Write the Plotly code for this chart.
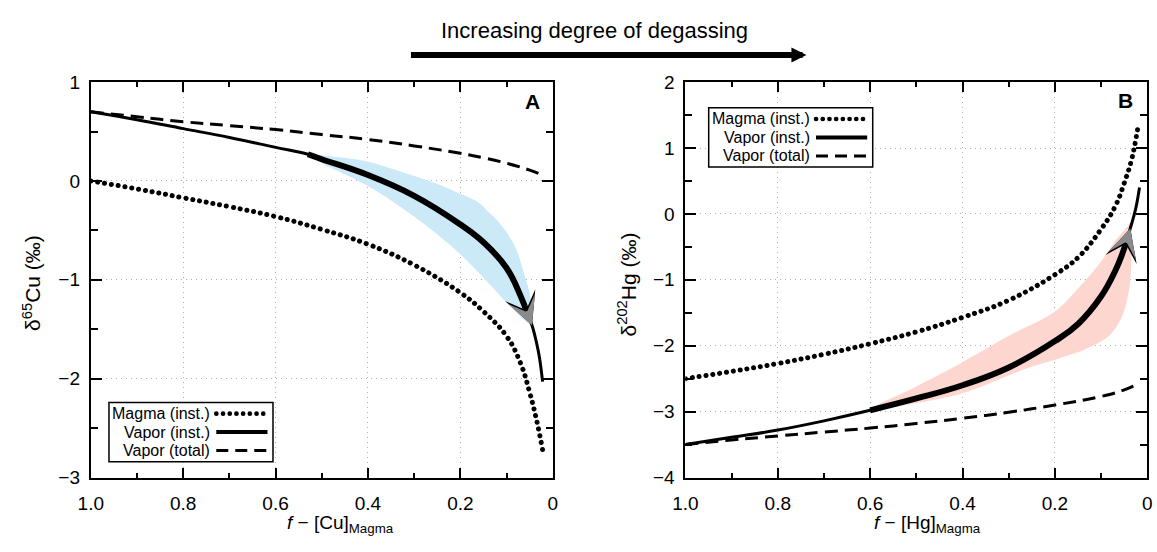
import numpy as np
import plotly.graph_objects as go

# ---------------- Panel A: Cu ----------------
f_cu_magma = [1.0, 0.9, 0.8, 0.7, 0.6, 0.5, 0.4, 0.3, 0.2, 0.15, 0.1, 0.07, 0.05, 0.035, 0.022]
cu_magma = [0.00, -0.08, -0.17, -0.26, -0.36, -0.49, -0.64, -0.85, -1.13, -1.32, -1.57, -1.84, -2.14, -2.42, -2.72]

f_cu_vapor = [1.0, 0.9, 0.8, 0.7, 0.6, 0.53, 0.5, 0.4, 0.3, 0.2, 0.15, 0.1, 0.07, 0.055, 0.045, 0.035, 0.029, 0.022]
cu_vapor = [0.70, 0.62, 0.53, 0.44, 0.34, 0.27, 0.22, 0.06, -0.15, -0.44, -0.62, -0.88, -1.16, -1.34, -1.46, -1.64, -1.78, -2.03]

f_cu_total = [1.0, 0.9, 0.8, 0.7, 0.6, 0.5, 0.4, 0.3, 0.2, 0.15, 0.1, 0.05, 0.022]
cu_total = [0.70, 0.65, 0.60, 0.56, 0.52, 0.47, 0.42, 0.355, 0.28, 0.235, 0.18, 0.11, 0.06]

# observed range envelope (upper edge, then lower edge back to start)
f_cu_band_hi = [0.53, 0.5, 0.4, 0.3, 0.25, 0.2, 0.16, 0.14, 0.12, 0.1, 0.08, 0.06, 0.048, 0.046]
cu_band_hi = [0.27, 0.26, 0.195, 0.05, -0.03, -0.13, -0.22, -0.31, -0.40, -0.52, -0.68, -0.97, -1.18, -1.46]
f_cu_band_lo = [0.061, 0.1, 0.15, 0.2, 0.3, 0.4, 0.5, 0.53]
cu_band_lo = [-1.41, -1.23, -0.98, -0.74, -0.36, -0.05, 0.18, 0.27]

cu_highlight = (0.055, 0.53)     # f-range of the emphasised vapour path
cu_arrow = (0.055, 0.045)        # tail f, tip f on the vapour curve

# ---------------- Panel B: Hg ----------------
f_hg_magma = [1.0, 0.9, 0.8, 0.7, 0.6, 0.5, 0.4, 0.3, 0.2, 0.15, 0.1, 0.07, 0.05, 0.035, 0.028, 0.02]
hg_magma = [-2.50, -2.39, -2.27, -2.13, -1.97, -1.79, -1.57, -1.31, -0.92, -0.66, -0.23, 0.11, 0.47, 0.80, 1.02, 1.33]

f_hg_vapor = [1.0, 0.9, 0.8, 0.7, 0.6, 0.5, 0.4, 0.3, 0.2, 0.15, 0.1, 0.07, 0.055, 0.045, 0.037, 0.03, 0.024, 0.017]
hg_vapor = [-3.50, -3.39, -3.28, -3.14, -2.98, -2.80, -2.60, -2.33, -1.93, -1.67, -1.25, -0.87, -0.62, -0.41, -0.22, -0.05, 0.12, 0.40]

f_hg_total = [1.0, 0.9, 0.8, 0.7, 0.6, 0.5, 0.4, 0.3, 0.2, 0.1, 0.05, 0.02]
hg_total = [-3.50, -3.43, -3.37, -3.31, -3.25, -3.18, -3.10, -3.01, -2.90, -2.77, -2.67, -2.58]

f_hg_band_hi = [0.6, 0.5, 0.4, 0.3, 0.2, 0.15, 0.1, 0.07, 0.0475, 0.038]
hg_band_hi = [-2.97, -2.62, -2.25, -1.85, -1.48, -1.13, -0.72, -0.41, -0.23, -0.15]
f_hg_band_lo = [0.034, 0.035, 0.04, 0.055, 0.083, 0.133, 0.19, 0.26, 0.3, 0.4, 0.5, 0.6]
hg_band_lo = [-0.30, -0.79, -1.17, -1.56, -1.85, -2.05, -2.19, -2.34, -2.45, -2.72, -2.87, -2.97]

hg_highlight = (0.045, 0.6)
hg_arrow = (0.045, 0.037)

# ---------------- axes text ----------------
x_tickvals = [1.0, 0.8, 0.6, 0.4, 0.2, 0.0]
x_ticktext = ["1.0", "0.8", "0.6", "0.4", "0.2", "0"]
x_minorvals = [0.9, 0.7, 0.5, 0.3, 0.1]
cu_yrange = [-3, 1]
hg_yrange = [-4, 2]
legend_labels = ["Magma (inst.)", "Vapor (inst.)", "Vapor (total)"]

W, H = 1157, 552
BLUE = "rgb(203,233,247)"
PINK = "rgb(253,214,208)"
DOT = "0.1px,6.8px"      # rendered as round dots (see style below)
DASH = "13px,7px"
SMOOTH = 1.2


def px(x):
    return x / W


def py(y):
    return 1 - y / H


fig = go.Figure()


def add_panel(xa, ya, f_m, v_m, f_v, v_v, f_t, v_t, f_hi, v_hi, f_lo, v_lo, band_col, hl, arrow):
    # envelope
    fig.add_trace(go.Scatter(x=f_hi + f_lo, y=v_hi + v_lo, fill="toself", fillcolor=band_col,
                             line=dict(width=0, color=band_col, shape="spline", smoothing=0.9),
                             mode="lines", xaxis=xa, yaxis=ya, hoverinfo="skip", showlegend=False))
    # magma (instantaneous)
    fig.add_trace(go.Scatter(x=f_m, y=v_m, mode="lines", line=dict(color="black", width=5, dash=DOT,
                             shape="spline", smoothing=SMOOTH), xaxis=xa, yaxis=ya, showlegend=False))
    # vapour (total)
    fig.add_trace(go.Scatter(x=f_t, y=v_t, mode="lines", line=dict(color="black", width=3, dash=DASH,
                             shape="spline", smoothing=SMOOTH), xaxis=xa, yaxis=ya, showlegend=False))
    # vapour (instantaneous)
    fig.add_trace(go.Scatter(x=f_v, y=v_v, mode="lines", line=dict(color="black", width=3,
                             shape="spline", smoothing=SMOOTH), xaxis=xa, yaxis=ya, showlegend=False))
    fv = np.array(f_v)
    vv = np.array(v_v)
    m = (fv >= hl[0] - 1e-9) & (fv <= hl[1] + 1e-9)
    fig.add_trace(go.Scatter(x=fv[m], y=vv[m], mode="lines", line=dict(color="black", width=6,
                             shape="spline", smoothing=SMOOTH), xaxis=xa, yaxis=ya, showlegend=False))
    # arrowhead on the emphasised path (dark outline under a grey head)
    i_tail = int(np.argmin(np.abs(fv - arrow[0])))
    i_tip = int(np.argmin(np.abs(fv - arrow[1])))
    for size, col in ((2.7, "black"), (2.35, "#8a8a8a")):
        fig.add_annotation(x=fv[i_tip], y=vv[i_tip], ax=fv[i_tail], ay=vv[i_tail],
                           xref=xa, yref=ya, axref=xa, ayref=ya, text="", showarrow=True,
                           arrowhead=3, arrowsize=size, arrowwidth=2, arrowcolor=col, standoff=0)


add_panel("x", "y", f_cu_magma, cu_magma, f_cu_vapor, cu_vapor, f_cu_total, cu_total,
          f_cu_band_hi, cu_band_hi, f_cu_band_lo, cu_band_lo, BLUE, cu_highlight, cu_arrow)
add_panel("x2", "y2", f_hg_magma, hg_magma, f_hg_vapor, hg_vapor, f_hg_total, hg_total,
          f_hg_band_hi, hg_band_hi, f_hg_band_lo, hg_band_lo, PINK, hg_highlight, hg_arrow)

FONT = "Liberation Sans, Arial, sans-serif"
grid = dict(showgrid=True, gridcolor="#b0b0b0", gridwidth=1, griddash="1px,4px")
common_x = dict(range=[1, 0], tickmode="array", tickvals=x_tickvals, ticktext=x_ticktext,
                ticks="inside", ticklen=10, tickwidth=1.5, tickcolor="black", ticklabelstandoff=8,
                minor=dict(tickmode="array", tickvals=x_minorvals, ticks="inside", ticklen=5,
                           tickwidth=1.5, tickcolor="black", showgrid=False),
                showline=True, linewidth=2, linecolor="black", mirror="ticks", zeroline=False,
                tickfont=dict(size=19, color="black", family=FONT), **grid)
common_y = dict(dtick=1, ticks="inside", ticklen=11, tickwidth=1.5, tickcolor="black",
                ticklabelstandoff=5,
                minor=dict(dtick=0.5, ticks="inside", ticklen=7, tickwidth=1.5,
                           tickcolor="black", showgrid=False),
                showline=True, linewidth=2, linecolor="black", mirror="ticks", zeroline=False,
                tickfont=dict(size=19, color="black", family=FONT), **grid)

yd = [py(486), py(75)]
fig.update_layout(
    width=W, height=H, margin=dict(l=0, r=0, t=0, b=0),
    paper_bgcolor="white", plot_bgcolor="white",
    font=dict(family=FONT, color="black"),
    showlegend=False,
    xaxis=dict(domain=[px(79), px(548.3)], anchor="y", **common_x),
    yaxis=dict(domain=yd, anchor="x", range=cu_yrange, **common_y),
    xaxis2=dict(domain=[px(683), px(1152.3)], anchor="y2", **common_x),
    yaxis2=dict(domain=yd, anchor="x2", range=hg_yrange, **common_y),
)

# axis titles, panel letters and the header
ann = [
    dict(x=px(333), y=py(534), text="<i>f</i> − [Cu]<sub>Magma</sub>", font=dict(size=19)),
    dict(x=px(929), y=py(534), text="<i>f</i> − [Hg]<sub>Magma</sub>", font=dict(size=19)),
    dict(x=px(19), y=py(284), text="δ<sup>65</sup>Cu (‰)", font=dict(size=21), textangle=-90),
    dict(x=px(624), y=py(285), text="δ<sup>202</sup>Hg (‰)", font=dict(size=21), textangle=-90),
    dict(x=px(528), y=py(95), text="<b>A</b>", font=dict(size=21)),
    dict(x=px(1130), y=py(94), text="<b>B</b>", font=dict(size=21)),
    dict(x=px(591), y=py(21), text="Increasing degree of degassing", font=dict(size=22)),
]
for a in ann:
    fig.add_annotation(xref="paper", yref="paper", showarrow=False, xanchor="center",
                       yanchor="middle", **a)

# degassing direction arrow
fig.add_annotation(xref="paper", yref="paper", x=px(806), y=py(46.7), ax=-397, ay=0,
                   text="", showarrow=True, arrowhead=2, arrowwidth=6, arrowsize=0.5,
                   arrowcolor="black", standoff=0)

# legends (label on the left, line sample on the right)
styles = [dict(width=4.6, dash="0.1px,6.6px"), dict(width=4, dash="solid"), dict(width=3, dash="12px,7px")]
for bx, by in ((97.5, 408), (706.7, 101.7)):
    fig.add_shape(type="rect", xref="paper", yref="paper", x0=px(bx), x1=px(bx + 166.6),
                  y0=py(by), y1=py(by + 61.6), line=dict(color="black", width=1.5),
                  fillcolor="white", layer="above")
    for i, (lab, st) in enumerate(zip(legend_labels, styles)):
        yy = by + 11.6 + 19.2 * i
        fig.add_annotation(xref="paper", yref="paper", x=px(bx + 105), y=py(yy), text=lab,
                           showarrow=False, xanchor="right", yanchor="middle",
                           font=dict(size=16, color="black"))
        fig.add_shape(type="line", xref="paper", yref="paper", x0=px(bx + 109), x1=px(bx + 161),
                      y0=py(yy), y1=py(yy), line=dict(color="black", **st), layer="above")

round_dots = """
var s = document.createElement('style');
s.textContent = 'path[style*="dasharray: 0.1px"]{stroke-linecap:round;}';
document.head.appendChild(s);
"""
fig.write_html("out.html", post_script=round_dots)
